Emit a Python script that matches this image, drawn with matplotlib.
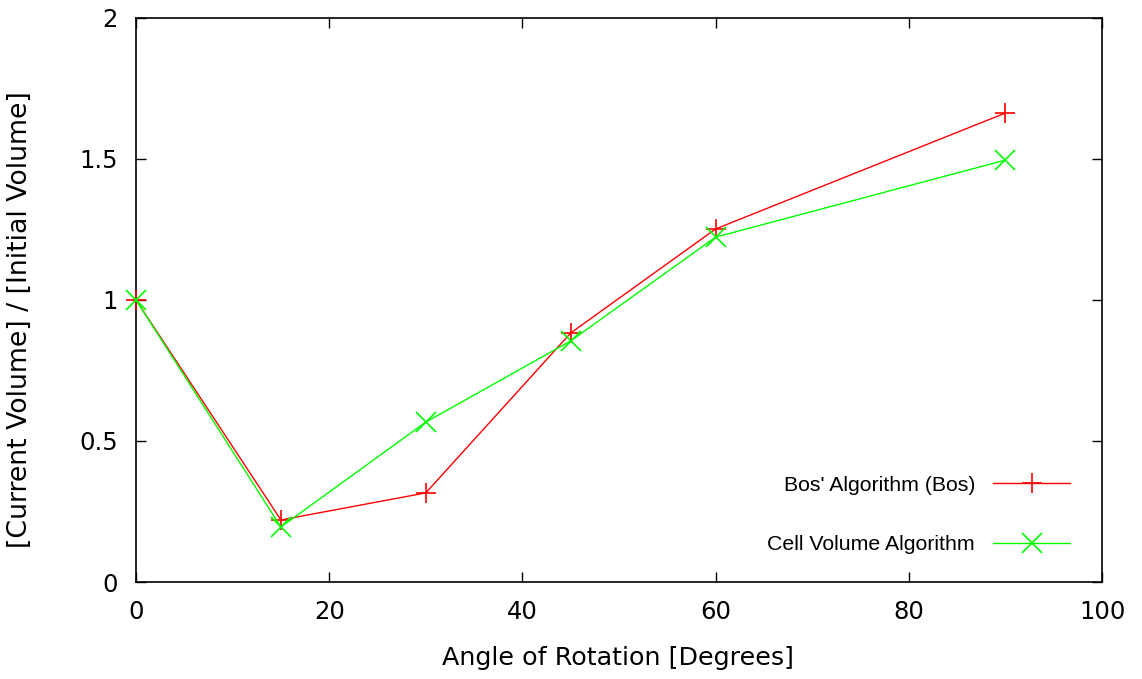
import matplotlib
matplotlib.use("Agg")
import matplotlib.pyplot as plt

angles = [0, 15, 30, 45, 60, 90]
bos = [1.0, 0.22, 0.316, 0.883, 1.252, 1.663]
cell = [1.0, 0.195, 0.567, 0.855, 1.223, 1.496]

W, H = 1142, 679
fig = plt.figure(figsize=(W/100, H/100), dpi=100)
ax = fig.add_axes([136/W, 1-582/H, (1102-136)/W, (582-18)/H])

ax.plot(angles, bos, color="#ff0000", lw=1, marker="+", ms=14.5, mew=1.2,
        label="Bos' Algorithm (Bos)", clip_on=False, zorder=3)
ax.plot(angles, cell, color="#00ff00", lw=1, marker="x", ms=14, mew=1.2,
        label="Cell Volume Algorithm", clip_on=False, zorder=3)

ax.set_xlim(0, 100)
ax.set_ylim(0, 2)
ax.set_xticks([0, 20, 40, 60, 80, 100])
ax.set_yticks([0, 0.5, 1, 1.5, 2])
ax.set_yticklabels(["0", "0.5", "1", "1.5", "2"])
ax.tick_params(direction="in", length=7, width=1, labelsize=17.5, top=True, right=True, pad=13)
for s in ax.spines.values():
    s.set_linewidth(1.2)

fig.text(618/W, 1-658/H, "Angle of Rotation [Degrees]", fontsize=18.3,
         ha="center", va="center")
fig.text(20/W, 1-320/H, "[Current Volume] / [Initial Volume]", fontsize=19.3,
         ha="center", va="center", rotation=90)

leg = ax.legend(loc="lower right", bbox_to_anchor=(1070/W, 1-554/H), bbox_transform=fig.transFigure,
                markerfirst=False, frameon=False, borderpad=0, borderaxespad=0,
                prop={"family": "Liberation Sans", "size": 15.3},
                handlelength=3.62, labelspacing=1.9, handletextpad=0.85)

fig.savefig("out.png", dpi=100)
